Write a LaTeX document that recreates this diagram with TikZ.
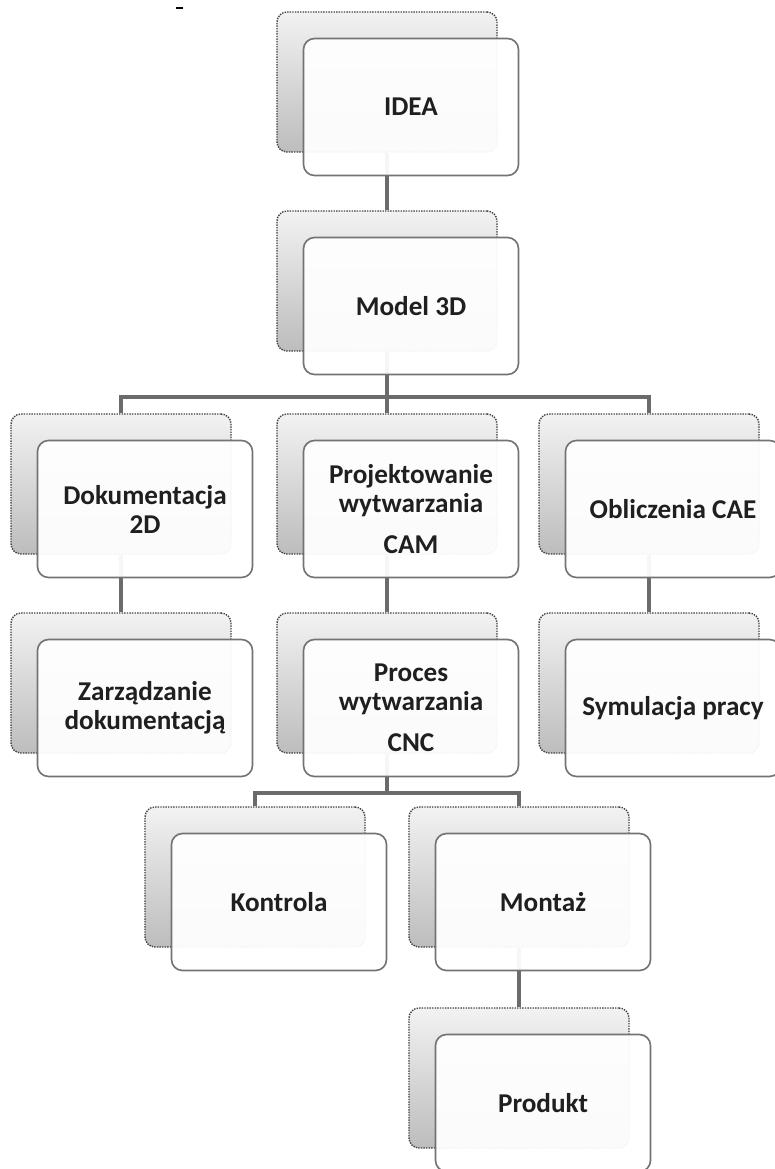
\documentclass[tikz,border=0pt]{standalone}
\usepackage{fontspec}
\setmainfont{Carlito}
\usetikzlibrary{positioning, backgrounds}

\tikzset{
	backbox/.style={draw=black!75, densely dotted, line width=1.2pt, rounded corners=0.3cm,
		top color=black!5, bottom color=black!26, minimum width=6.6cm, minimum height=4.2cm},
	frontbox/.style={draw=black!55, solid, line width=1.4pt, rounded corners=0.33cm,
		fill=white, fill opacity=0.94, text opacity=1, minimum width=6.45cm, minimum height=4.11cm,
		align=center, text=black!88, font=\fontsize{23.2pt}{24.7pt}\selectfont\bfseries},
	link/.style={draw=black!58, line width=3.4pt}
}

\begin{document}
\begin{tikzpicture}[x=0.03cm, y=-0.03cm]
	
	\useasboundingbox (0,0) rectangle (774,1169);
	
	%// small mark top left
	\draw[black, line width=1pt] (176,8) -- (183,8);
	
	\foreach \name/\x/\y/\txt in {
		idea/387/82/{IDEA},
		model/387/281/{Model 3D},
		doc/121/484/{Dokumentacja\\2D},
		cam/387/484/{Projektowanie\\wytwarzania\\[0.36cm]CAM},
		cae/649/484/{Obliczenia CAE},
		zarz/121/683/{Zarządzanie\\dokumentacją},
		cnc/387/683/{Proces\\wytwarzania\\[0.36cm]CNC},
		sym/649/683/{Symulacja pracy},
		kon/255/877/{Kontrola},
		mon/519/877/{Montaż},
		prod/519/1078/{Produkt}}
	{
		\node[backbox] (\name-b) at (\x,\y) {};
		\node[frontbox] (\name) at ([xshift=0.72cm, yshift=-0.75cm]\name-b.center) {\txt};
	}
	
	\coordinate (bar1) at (387,397);
	\coordinate (bar2) at (387,793);
	
	\begin{pgfonlayer}{background}
		\draw[link] (idea-b) -- (model-b);
		\draw[link] (model-b) -- (cam-b);
		\draw[link] (doc-b) |- (bar1) -| (cae-b);
		\draw[link] (doc-b) -- (zarz-b);
		\draw[link] (cam-b) -- (cnc-b);
		\draw[link] (cae-b) -- (sym-b);
		\draw[link] (cnc-b) -- (bar2);
		\draw[link] (kon-b) |- (bar2) -| (mon-b);
		\draw[link] (mon-b) -- (prod-b);
	\end{pgfonlayer}
	
\end{tikzpicture}
\end{document}
